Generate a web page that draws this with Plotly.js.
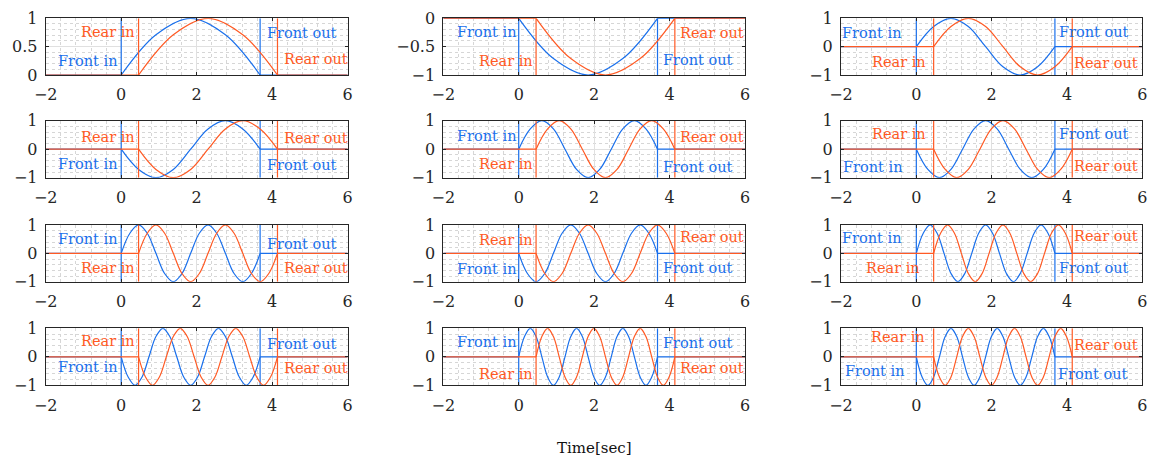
<!DOCTYPE html>
<html>
<head>
<meta charset="utf-8">
<script src="https://cdn.plot.ly/plotly-3.0.1.min.js"></script>
<style>
  html, body { margin: 0; padding: 0; background: #fff; }
  #chart { width: 1153px; height: 461px; }
</style>
</head>
<body>
<div id="chart"></div>
<script>
// Axle pass timing (s): front axle enters/leaves, rear axle enters/leaves
const frontIn = 0;
const frontOut = 3.68;
const rearIn = 0.46;
const rearOut = 4.14;

// Time axis shown in every panel
const timeRange = [-2, 6];
const timeTicks = [-2, 0, 2, 4, 6];

// Normalised excitation during the pass, sampled every eighth of a period
const wave1  = [0, 0.71, 1, 0.71, 0];
const wave2  = [0, -0.71, -1, -0.71, 0];
const wave3  = [0, 0.71, 1, 0.71, 0, -0.71, -1, -0.71, 0];
const wave4  = [0, -0.71, -1, -0.71, 0, 0.71, 1, 0.71, 0];
const wave5  = [0, 0.71, 1, 0.71, 0, -0.71, -1, -0.71, 0, 0.71, 1, 0.71, 0];
const wave6  = [0, -0.71, -1, -0.71, 0, 0.71, 1, 0.71, 0, -0.71, -1, -0.71, 0];
const wave7  = [0, 0.71, 1, 0.71, 0, -0.71, -1, -0.71, 0, 0.71, 1, 0.71, 0, -0.71, -1, -0.71, 0];
const wave8  = [0, -0.71, -1, -0.71, 0, 0.71, 1, 0.71, 0, -0.71, -1, -0.71, 0, 0.71, 1, 0.71, 0];
const wave9  = [0, 0.71, 1, 0.71, 0, -0.71, -1, -0.71, 0, 0.71, 1, 0.71, 0, -0.71, -1, -0.71, 0, 0.71, 1, 0.71, 0];
const wave10 = [0, -0.71, -1, -0.71, 0, 0.71, 1, 0.71, 0, -0.71, -1, -0.71, 0, 0.71, 1, 0.71, 0, -0.71, -1, -0.71, 0];
const wave11 = [0, 0.71, 1, 0.71, 0, -0.71, -1, -0.71, 0, 0.71, 1, 0.71, 0, -0.71, -1, -0.71, 0, 0.71, 1, 0.71, 0, -0.71, -1, -0.71, 0];
const wave12 = [0, -0.71, -1, -0.71, 0, 0.71, 1, 0.71, 0, -0.71, -1, -0.71, 0, 0.71, 1, 0.71, 0, -0.71, -1, -0.71, 0, 0.71, 1, 0.71, 0];
const waves = [wave1, wave2, wave3, wave4, wave5, wave6, wave7, wave8, wave9, wave10, wave11, wave12];

// Vertical range and ticks of each panel
const yRanges = [[0, 1], [-1, 0], [-1, 1], [-1, 1], [-1, 1], [-1, 1],
                 [-1, 1], [-1, 1], [-1, 1], [-1, 1], [-1, 1], [-1, 1]];
const yTicks = [[0, 0.5, 1], [-1, -0.5, 0], [-1, 0, 1], [-1, 0, 1], [-1, 0, 1], [-1, 0, 1],
                [-1, 0, 1], [-1, 0, 1], [-1, 0, 1], [-1, 0, 1], [-1, 0, 1], [-1, 0, 1]];

// Event labels
const labelFrontIn = 'Front in';
const labelRearIn = 'Rear in';
const labelFrontOut = 'Front out';
const labelRearOut = 'Rear out';
const axisLabel = 'Time[sec]';

// Label placement per panel: [x, y] of left edge / centre for
// Front in, Rear in, Front out, Rear out
const labelPos = [
  [[-1.69, 0.25], [-1.09, 0.75], [3.84, 0.74], [4.29, 0.28]],
  [[-1.67, -0.25], [-1.07, -0.75], [3.79, -0.74], [4.24, -0.26]],
  [[-2.0, 0.47], [-1.21, -0.53], [3.77, 0.51], [4.17, -0.59]],
  [[-1.69, -0.52], [-1.09, 0.42], [3.84, -0.55], [4.29, 0.38]],
  [[-1.67, 0.46], [-1.09, -0.53], [3.79, -0.64], [4.24, 0.42]],
  [[-1.98, -0.61], [-1.21, 0.52], [3.77, 0.52], [4.15, -0.59]],
  [[-1.69, 0.51], [-1.09, -0.53], [3.84, 0.33], [4.29, -0.51]],
  [[-1.67, -0.56], [-1.07, 0.47], [3.79, -0.51], [4.24, 0.59]],
  [[-2.0, 0.53], [-1.36, -0.53], [3.77, -0.53], [4.17, 0.62]],
  [[-1.69, -0.37], [-1.09, 0.56], [3.84, 0.44], [4.29, -0.38]],
  [[-1.67, 0.53], [-1.07, -0.61], [3.79, 0.47], [4.24, -0.40]],
  [[-1.92, -0.49], [-1.23, 0.68], [3.74, -0.61], [4.17, 0.41]]
];

const blue = '#1a70ec';
const orange = '#ff5a24';
const fontFamily = '"DejaVu Serif", "Liberation Serif", serif';
const axisColor = '#262626';

// Subplot grid geometry (paper fractions)
const W = 1153, H = 461;
const colPx = [[45.7, 347.7], [443.3, 745.0], [841.0, 1142.3]];
const rowPx = [[18.3, 75.0], [120.7, 177.7], [225.0, 281.7], [328.3, 385.3]];

function sampleTimes(start, end, n) {
  const t = [];
  for (let i = 0; i < n; i++) t.push(start + (end - start) * i / (n - 1));
  return t;
}

const data = [];
const annotations = [];
const layout = {
  width: W, height: H,
  margin: {l: 0, r: 0, t: 0, b: 0},
  paper_bgcolor: '#ffffff',
  plot_bgcolor: '#ffffff',
  showlegend: false,
  font: {family: fontFamily, size: 16, color: axisColor}
};

waves.forEach((wave, k) => {
  const row = Math.floor(k / 3), col = k % 3;
  const sfx = k === 0 ? '' : String(k + 1);
  const xa = 'x' + sfx, ya = 'y' + sfx;
  const yr = yRanges[k];

  // Front axle: flat outside the pass, wave during it, event markers
  data.push({x: [timeRange[0], frontIn, null, frontOut, timeRange[1]], y: [0, 0, null, 0, 0],
             xaxis: xa, yaxis: ya, mode: 'lines', line: {color: blue, width: 1.2}, hoverinfo: 'skip'});
  data.push({x: sampleTimes(frontIn, frontOut, wave.length), y: wave,
             xaxis: xa, yaxis: ya, mode: 'lines', line: {color: blue, width: 1.2, shape: 'spline', smoothing: 1}});
  data.push({x: [frontIn, frontIn, null, frontOut, frontOut], y: [yr[0], yr[1], null, yr[0], yr[1]],
             xaxis: xa, yaxis: ya, mode: 'lines', line: {color: blue, width: 1.2}, hoverinfo: 'skip'});

  // Rear axle follows the same excitation, delayed
  data.push({x: [timeRange[0], rearIn, null, rearOut, timeRange[1]], y: [0, 0, null, 0, 0],
             xaxis: xa, yaxis: ya, mode: 'lines', line: {color: orange, width: 1.2}, hoverinfo: 'skip'});
  data.push({x: sampleTimes(rearIn, rearOut, wave.length), y: wave,
             xaxis: xa, yaxis: ya, mode: 'lines', line: {color: orange, width: 1.2, shape: 'spline', smoothing: 1}});
  data.push({x: [rearIn, rearIn, null, rearOut, rearOut], y: [yr[0], yr[1], null, yr[0], yr[1]],
             xaxis: xa, yaxis: ya, mode: 'lines', line: {color: orange, width: 1.2}, hoverinfo: 'skip'});

  const ydt = yTicks[k][1] - yTicks[k][0];
  layout['xaxis' + sfx] = {
    domain: [colPx[col][0] / W, colPx[col][1] / W],
    anchor: ya, range: timeRange, tickvals: timeTicks,
    showline: true, mirror: 'ticks', linecolor: axisColor, linewidth: 1,
    ticks: 'inside', ticklen: 3, tickcolor: axisColor,
    showgrid: true, gridcolor: '#e0e0e0', gridwidth: 1, zeroline: false,
    minor: {dtick: 0.4, tick0: -2, showgrid: true, gridcolor: '#d6d6d6', griddash: 'dot', gridwidth: 1},
    tickfont: {family: fontFamily, size: 16, color: axisColor},
    ticklabelstandoff: 5, fixedrange: true
  };
  layout['yaxis' + sfx] = {
    domain: [1 - rowPx[row][1] / H, 1 - rowPx[row][0] / H],
    anchor: xa, range: yr, tickvals: yTicks[k],
    showline: true, mirror: 'ticks', linecolor: axisColor, linewidth: 1,
    ticks: 'inside', ticklen: 3, tickcolor: axisColor,
    showgrid: true, gridcolor: '#e0e0e0', gridwidth: 1, zeroline: false,
    minor: {dtick: ydt / 5, tick0: yr[0], showgrid: true, gridcolor: '#d6d6d6', griddash: 'dot', gridwidth: 1},
    tickfont: {family: fontFamily, size: 16, color: axisColor},
    ticklabelstandoff: 4, fixedrange: true
  };

  const texts = [labelFrontIn, labelRearIn, labelFrontOut, labelRearOut];
  const colors = [blue, orange, blue, orange];
  labelPos[k].forEach((p, j) => {
    annotations.push({
      xref: xa, yref: ya, x: p[0], y: p[1], text: texts[j],
      xanchor: 'left', yanchor: 'middle', showarrow: false,
      font: {family: fontFamily, size: 14.5, color: colors[j]},
      borderpad: 0
    });
  });
});

annotations.push({
  xref: 'paper', yref: 'paper', x: (colPx[1][0] + colPx[1][1]) / 2 / W, y: 1 - 448 / H,
  text: axisLabel, xanchor: 'center', yanchor: 'middle', showarrow: false,
  font: {family: fontFamily, size: 15, color: '#111111'}
});
layout.annotations = annotations;

Plotly.newPlot('chart', data, layout, {staticPlot: true, displayModeBar: false});
</script>
</body>
</html>
